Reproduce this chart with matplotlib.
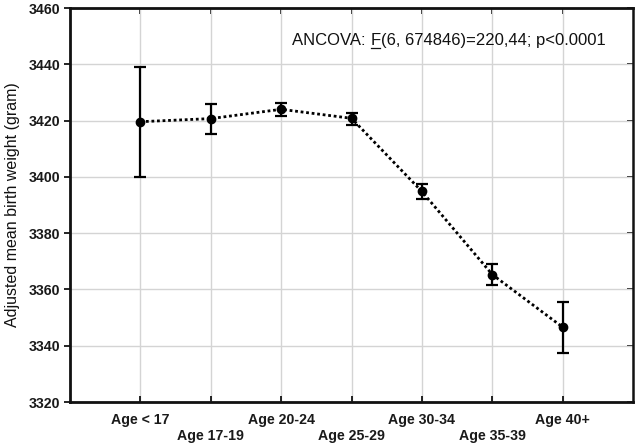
import matplotlib
matplotlib.use("Agg")
import matplotlib.pyplot as plt
import numpy as np

categories = ["Age < 17", "Age 17-19", "Age 20-24", "Age 25-29", "Age 30-34", "Age 35-39", "Age 40+"]
means = [3419.6, 3420.7, 3424.0, 3420.8, 3394.8, 3365.3, 3346.6]
err_low = [3400.0, 3415.3, 3421.5, 3418.5, 3392.2, 3361.4, 3337.5]
err_high = [3439.0, 3426.0, 3426.3, 3422.6, 3397.4, 3369.1, 3355.6]
yticks = [3320, 3340, 3360, 3380, 3400, 3420, 3440, 3460]
annotation_pre = "ANCOVA: "
annotation_f = "F"
annotation_post = "(6, 674846)=220,44; p<0.0001"
ylabel = "Adjusted mean birth weight (gram)"

plt.rcParams['font.family'] = ['Liberation Sans', 'DejaVu Sans']

fig = plt.figure(figsize=(6.36, 4.46), dpi=100)
ax = fig.add_axes([70/636, 1-402/446, (633-70)/636, (402-8)/446])

x = np.arange(len(categories))
m = np.array(means)
lo = m - np.array(err_low)
hi = np.array(err_high) - m

ax.plot(x, m, linestyle=(0, (1, 1)), color='black', linewidth=2.0, zorder=3)
ax.errorbar(x, m, yerr=[lo, hi], fmt='o', color='black', markersize=6,
            ecolor='black', elinewidth=1.6, capsize=4, capthick=1.6, zorder=4)

ax.set_xlim(-1, 7)
ax.set_ylim(3320, 3460)
ax.set_yticks(yticks)
ax.set_yticklabels([str(v) for v in yticks], fontsize=10.2, fontweight='bold', color='#1a1a1a')
ax.set_xticks(x)
labels = [c if i % 2 == 0 else "\n" + c for i, c in enumerate(categories)]
ax.set_xticklabels(labels, fontsize=10.2, fontweight='bold', color='#1a1a1a', linespacing=1.15)

ax.grid(True, color='#d4d4d4', linewidth=1.0)
ax.set_axisbelow(True)

ax.tick_params(axis='y', which='both', direction='out', length=4, width=1.2, left=True, right=False, pad=3)
ax.tick_params(axis='x', which='both', direction='in', length=4, width=1.2, top=False, bottom=True, pad=8)
sec_x = ax.secondary_xaxis('top')
sec_x.set_xticks(x)
sec_x.set_xticklabels([])
sec_x.tick_params(direction='in', length=4, width=1.2)
sec_x.spines['top'].set_visible(False)
sec_y = ax.secondary_yaxis('right')
sec_y.set_yticks(yticks)
sec_y.set_yticklabels([])
sec_y.tick_params(direction='in', length=4, width=1.2)
sec_y.spines['right'].set_visible(False)

for s in ['left', 'bottom', 'top']:
    ax.spines[s].set_linewidth(2.0)
ax.spines['right'].set_linewidth(1.8)
for s in ax.spines.values():
    s.set_color('#111111')

ax.set_ylabel(ylabel, fontsize=11.5, color='#111111', labelpad=6)

tx, ty = 0.395, 0.905
t1 = ax.text(tx, ty, annotation_pre, transform=ax.transAxes, fontsize=12, color='#111111', va='baseline')
fig.canvas.draw()
r = fig.canvas.get_renderer()
bb1 = t1.get_window_extent(r)
inv = ax.transAxes.inverted()
x_f = inv.transform((bb1.x1, bb1.y0))[0]
t2 = ax.text(x_f, ty, annotation_f, transform=ax.transAxes, fontsize=12, color='#111111', va='baseline')
fig.canvas.draw()
bb2 = t2.get_window_extent(r)
x_p = inv.transform((bb2.x1, bb2.y0))[0]
ax.text(x_p, ty, annotation_post, transform=ax.transAxes, fontsize=12, color='#111111', va='baseline')
y_base = ax.transAxes.transform((0, ty))[1]
ul_y = inv.transform((0, y_base - 2.5))[1]
ax.plot([x_f + 0.001, x_p - 0.002], [ul_y, ul_y], transform=ax.transAxes, color='#111111', linewidth=0.9, clip_on=False)

fig.savefig("out.png", dpi=100)
